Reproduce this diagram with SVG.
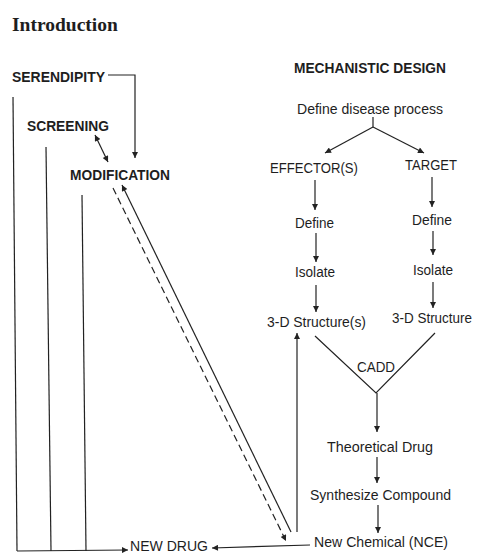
<svg xmlns="http://www.w3.org/2000/svg" width="477" height="554" viewBox="0 0 477 554">
<style>
  .t{font-family:"Liberation Sans",Arial,sans-serif;font-size:14px;fill:#1e1e1e}
  .b{font-weight:bold}
  .h{font-family:"Liberation Serif","Times New Roman",serif;font-weight:bold;font-size:19.5px;fill:#1e1e1e}
  .l{fill:none;stroke:#222;stroke-width:1.2}
  .d{stroke-dasharray:7,4}
</style>
<defs>
  <marker id="a" viewBox="0 0 10 10" refX="10" refY="5" markerWidth="8" markerHeight="6" markerUnits="userSpaceOnUse" orient="auto-start-reverse">
    <path d="M0,0 L10,5 L0,10 z" fill="#222"/>
  </marker>
</defs>
<rect width="477" height="554" fill="#fff"/>
<text class="h" x="12" y="31">Introduction</text>

<g id="serendipity"><text class="t b" x="12" y="82" textLength="93" lengthAdjust="spacingAndGlyphs">SERENDIPITY</text></g>
<g id="screening"><text class="t b" x="27" y="131" textLength="82" lengthAdjust="spacingAndGlyphs">SCREENING</text></g>
<g id="modification"><text class="t b" x="70" y="180" textLength="100" lengthAdjust="spacingAndGlyphs">MODIFICATION</text></g>
<g id="newdrug"><text class="t" x="130" y="551" textLength="78" lengthAdjust="spacingAndGlyphs">NEW DRUG</text></g>

<g id="mechanistic"><text class="t b" x="294" y="73" textLength="152" lengthAdjust="spacingAndGlyphs">MECHANISTIC DESIGN</text></g>
<g id="disease"><text class="t" x="297" y="114" textLength="146" lengthAdjust="spacingAndGlyphs">Define disease process</text></g>
<g id="effector"><text class="t" x="270" y="173" textLength="88" lengthAdjust="spacingAndGlyphs">EFFECTOR(S)</text></g>
<g id="target"><text class="t" x="405" y="170" textLength="52" lengthAdjust="spacingAndGlyphs">TARGET</text></g>
<g id="define1"><text class="t" x="295" y="228" textLength="39" lengthAdjust="spacingAndGlyphs">Define</text></g>
<g id="define2"><text class="t" x="412" y="225" textLength="40" lengthAdjust="spacingAndGlyphs">Define</text></g>
<g id="isolate1"><text class="t" x="295" y="277" textLength="40" lengthAdjust="spacingAndGlyphs">Isolate</text></g>
<g id="isolate2"><text class="t" x="413" y="275" textLength="40" lengthAdjust="spacingAndGlyphs">Isolate</text></g>
<g id="struct1"><text class="t" x="267" y="327" textLength="99" lengthAdjust="spacingAndGlyphs">3-D Structure(s)</text></g>
<g id="struct2"><text class="t" x="392" y="323" textLength="80" lengthAdjust="spacingAndGlyphs">3-D Structure</text></g>
<g id="cadd"><text class="t" x="357" y="372" textLength="38" lengthAdjust="spacingAndGlyphs">CADD</text></g>
<g id="theoretical"><text class="t" x="327" y="452" textLength="106" lengthAdjust="spacingAndGlyphs">Theoretical Drug</text></g>
<g id="synthesize"><text class="t" x="310" y="500" textLength="141" lengthAdjust="spacingAndGlyphs">Synthesize Compound</text></g>
<g id="nce"><text class="t" x="314" y="547" textLength="134" lengthAdjust="spacingAndGlyphs">New Chemical (NCE)</text></g>

<g id="connectors">
  <polyline class="l" points="108,75 135,75 135,158" marker-end="url(#a)"/>
  <line class="l" x1="95" y1="135" x2="108" y2="162" marker-start="url(#a)" marker-end="url(#a)"/>
  <line class="l" x1="13" y1="97" x2="17" y2="551"/>
  <line class="l" x1="46" y1="147" x2="51" y2="551"/>
  <line class="l" x1="82" y1="195" x2="86" y2="551"/>
  <line class="l" x1="17" y1="551" x2="128" y2="550" marker-end="url(#a)"/>
  <line class="l" x1="310" y1="545" x2="212" y2="548" marker-end="url(#a)"/>
  <line class="l" x1="291" y1="532" x2="122" y2="185" marker-end="url(#a)"/>
  <line class="l d" x1="113" y1="188" x2="286" y2="541" marker-end="url(#a)"/>
  <line class="l" x1="297" y1="532" x2="297" y2="333" marker-end="url(#a)"/>
  <line class="l" x1="373" y1="117" x2="373" y2="127"/>
  <line class="l" x1="373" y1="127" x2="325" y2="153" marker-end="url(#a)"/>
  <line class="l" x1="373" y1="127" x2="424" y2="153" marker-end="url(#a)"/>
  <line class="l" x1="315" y1="180" x2="315" y2="210" marker-end="url(#a)"/>
  <line class="l" x1="432" y1="177" x2="432" y2="207" marker-end="url(#a)"/>
  <line class="l" x1="316" y1="233" x2="316" y2="262" marker-end="url(#a)"/>
  <line class="l" x1="433" y1="231" x2="433" y2="255" marker-end="url(#a)"/>
  <line class="l" x1="316" y1="285" x2="316" y2="312" marker-end="url(#a)"/>
  <line class="l" x1="433" y1="282" x2="433" y2="308" marker-end="url(#a)"/>
  <polyline class="l" points="315,336 376,393 435,333"/>
  <line class="l" x1="377" y1="393" x2="377" y2="432" marker-end="url(#a)"/>
  <line class="l" x1="377" y1="457" x2="377" y2="483" marker-end="url(#a)"/>
  <line class="l" x1="378" y1="505" x2="378" y2="533" marker-end="url(#a)"/>
</g>
</svg>
